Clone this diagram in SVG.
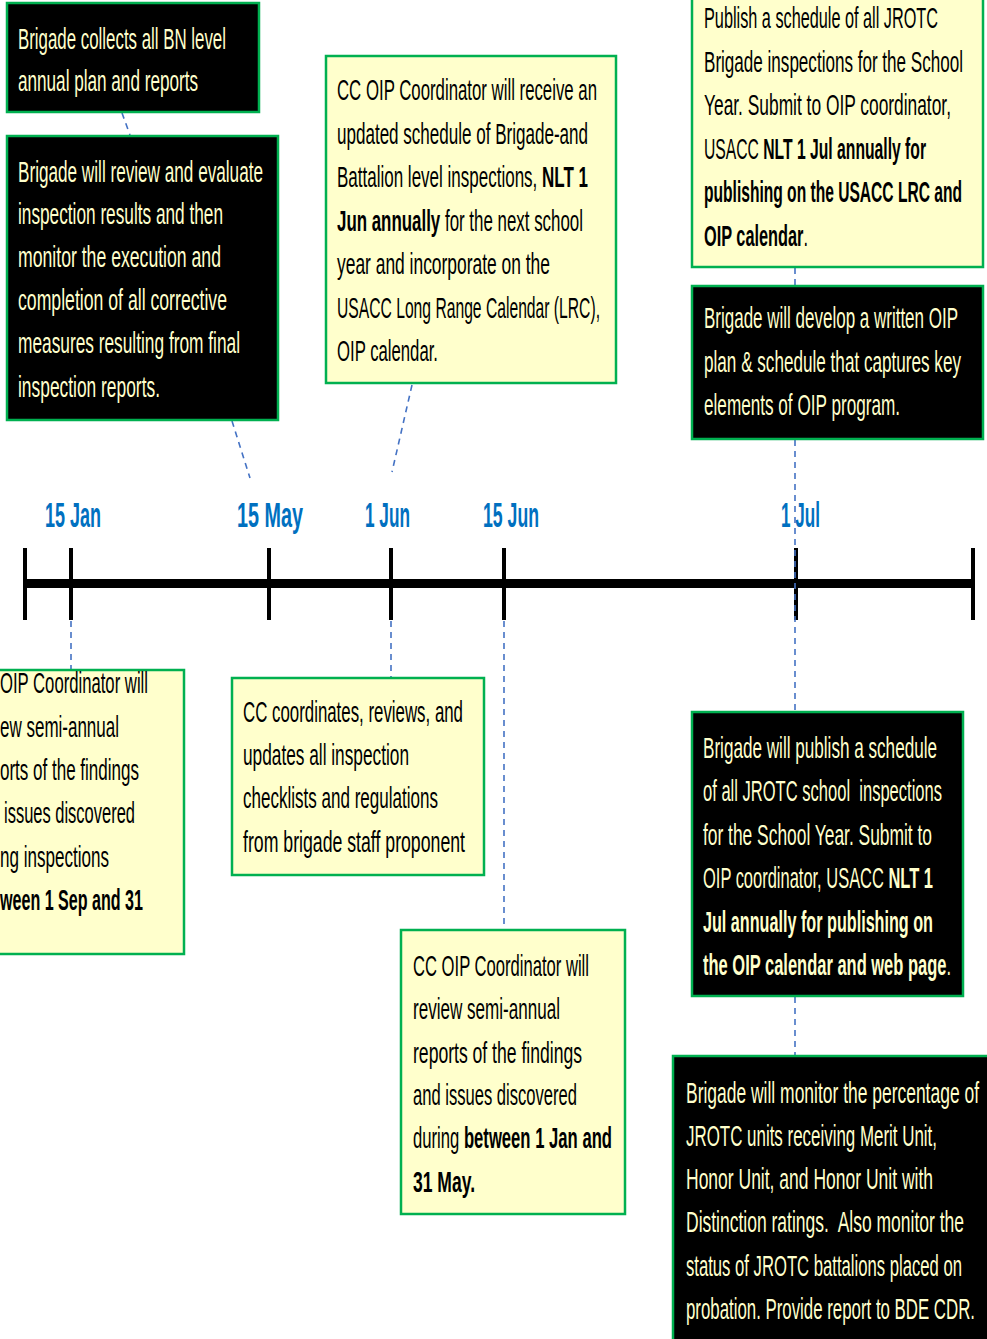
<svg xmlns="http://www.w3.org/2000/svg" width="987" height="1339" viewBox="0 0 987 1339">
<style>
.y{fill:#FFFFCC;stroke:#00B050;stroke-width:2.5}
.k{fill:#000000;stroke:#00B050;stroke-width:2.5}
text{font-family:"Liberation Sans Narrow","Liberation Sans",Arial,sans-serif;font-size:15.5px}
.td{fill:#000000}
.tl{fill:#FFFFCC}
.b{font-weight:bold}
.lab{fill:#0070C0;font-weight:bold;font-size:17px}
.c{fill:none;stroke:#4472C4;stroke-width:1.6;stroke-dasharray:6 5}
</style>
<g id="timeline">
<rect x="24" y="579" width="950" height="9" fill="#000"/>
<g fill="#000">
<rect x="23" y="548" width="4" height="72"/>
<rect x="69" y="548" width="4" height="72"/>
<rect x="267" y="548" width="4" height="72"/>
<rect x="389" y="548" width="4" height="72"/>
<rect x="502" y="548" width="4" height="72"/>
<rect x="794" y="548" width="4" height="72"/>
<rect x="971" y="548" width="4" height="72"/>
</g>
<text class="lab" transform="translate(45,527) scale(1,2.05)" textLength="56" lengthAdjust="spacingAndGlyphs">15 Jan</text>
<text class="lab" transform="translate(237,527) scale(1,2.05)" textLength="66" lengthAdjust="spacingAndGlyphs">15 May</text>
<text class="lab" transform="translate(365,527) scale(1,2.05)" textLength="45" lengthAdjust="spacingAndGlyphs">1 Jun</text>
<text class="lab" transform="translate(483,527) scale(1,2.05)" textLength="56" lengthAdjust="spacingAndGlyphs">15 Jun</text>
<text class="lab" transform="translate(781,527) scale(1,2.05)" textLength="39" lengthAdjust="spacingAndGlyphs">1 Jul</text>
</g>
<g id="connectors">
<path class="c" d="M122 113 L130 135"/>
<path class="c" d="M232 421 L250 478"/>
<path class="c" d="M412 385 L392 472"/>
<path class="c" d="M795 268 V286"/>
<path class="c" d="M795 440 V711"/>
<path class="c" d="M795 997 V1055"/>
<path class="c" d="M71 621 V669"/>
<path class="c" d="M391 621 V677"/>
<path class="c" d="M504 621 V929"/>
</g>
<g id="n1">
<rect class="k" x="7" y="3" width="252" height="109"/>
<text class="tl" transform="translate(18,49) scale(1,1.94)" textLength="208" lengthAdjust="spacingAndGlyphs">Brigade collects all BN level</text>
<text class="tl" transform="translate(18,91) scale(1,1.94)" textLength="180" lengthAdjust="spacingAndGlyphs">annual plan and reports</text>
</g>
<g id="n2">
<rect class="k" x="7" y="136" width="271" height="284"/>
<text class="tl" transform="translate(18,182) scale(1,1.94)" textLength="245" lengthAdjust="spacingAndGlyphs">Brigade will review and evaluate</text>
<text class="tl" transform="translate(18,224) scale(1,1.94)" textLength="205" lengthAdjust="spacingAndGlyphs">inspection results and then</text>
<text class="tl" transform="translate(18,267) scale(1,1.94)" textLength="203" lengthAdjust="spacingAndGlyphs">monitor the execution and</text>
<text class="tl" transform="translate(18,310) scale(1,1.94)" textLength="209" lengthAdjust="spacingAndGlyphs">completion of all corrective</text>
<text class="tl" transform="translate(18,353) scale(1,1.94)" textLength="222" lengthAdjust="spacingAndGlyphs">measures resulting from final</text>
<text class="tl" transform="translate(18,397) scale(1,1.94)" textLength="142" lengthAdjust="spacingAndGlyphs">inspection reports.</text>
</g>
<g id="n3">
<rect class="y" x="326" y="56" width="290" height="327"/>
<text class="td" transform="translate(337,100) scale(1,1.94)" textLength="260" lengthAdjust="spacingAndGlyphs">CC OIP Coordinator will receive an</text>
<text class="td" transform="translate(337,144) scale(1,1.94)" textLength="251" lengthAdjust="spacingAndGlyphs">updated schedule of Brigade-and</text>
<text class="td" transform="translate(337,187) scale(1,1.94)" textLength="251" lengthAdjust="spacingAndGlyphs">Battalion level inspections, <tspan class="b">NLT 1</tspan></text>
<text class="td" transform="translate(337,231) scale(1,1.94)" textLength="246" lengthAdjust="spacingAndGlyphs"><tspan class="b">Jun annually</tspan> for the next school</text>
<text class="td" transform="translate(337,274) scale(1,1.94)" textLength="213" lengthAdjust="spacingAndGlyphs">year and incorporate on the</text>
<text class="td" transform="translate(337,318) scale(1,1.94)" textLength="263" lengthAdjust="spacingAndGlyphs">USACC Long Range Calendar (LRC),</text>
<text class="td" transform="translate(337,361) scale(1,1.94)" textLength="101" lengthAdjust="spacingAndGlyphs">OIP calendar.</text>
</g>
<g id="n4">
<rect class="y" x="692" y="-5" width="291" height="272"/>
<text class="td" transform="translate(704,28) scale(1,1.94)" textLength="234" lengthAdjust="spacingAndGlyphs">Publish a schedule of all JROTC</text>
<text class="td" transform="translate(704,72) scale(1,1.94)" textLength="259" lengthAdjust="spacingAndGlyphs">Brigade inspections for the School</text>
<text class="td" transform="translate(704,115) scale(1,1.94)" textLength="247" lengthAdjust="spacingAndGlyphs">Year. Submit to OIP coordinator,</text>
<text class="td" transform="translate(704,159) scale(1,1.94)" textLength="222" lengthAdjust="spacingAndGlyphs">USACC <tspan class="b">NLT 1 Jul annually for</tspan></text>
<text class="td b" transform="translate(704,202) scale(1,1.94)" textLength="258" lengthAdjust="spacingAndGlyphs">publishing on the USACC LRC and</text>
<text class="td" transform="translate(704,246) scale(1,1.94)" textLength="104" lengthAdjust="spacingAndGlyphs"><tspan class="b">OIP calendar</tspan>.</text>
</g>
<g id="n5">
<rect class="k" x="692" y="286" width="291" height="153"/>
<text class="tl" transform="translate(704,328) scale(1,1.94)" textLength="254" lengthAdjust="spacingAndGlyphs">Brigade will develop a written OIP</text>
<text class="tl" transform="translate(704,372) scale(1,1.94)" textLength="257" lengthAdjust="spacingAndGlyphs">plan &amp; schedule that captures key</text>
<text class="tl" transform="translate(704,415) scale(1,1.94)" textLength="196" lengthAdjust="spacingAndGlyphs">elements of OIP program.</text>
</g>
<g id="n7">
<rect class="y" x="-5" y="670" width="189" height="284"/>
<text class="td" transform="translate(0,693) scale(1,1.94)" textLength="148" lengthAdjust="spacingAndGlyphs">OIP Coordinator will</text>
<text class="td" transform="translate(0,737) scale(1,1.94)" textLength="119" lengthAdjust="spacingAndGlyphs">ew semi-annual</text>
<text class="td" transform="translate(0,780) scale(1,1.94)" textLength="139" lengthAdjust="spacingAndGlyphs">orts of the findings</text>
<text class="td" transform="translate(4,823) scale(1,1.94)" textLength="131" lengthAdjust="spacingAndGlyphs">issues discovered</text>
<text class="td" transform="translate(0,867) scale(1,1.94)" textLength="109" lengthAdjust="spacingAndGlyphs">ng inspections</text>
<text class="td b" transform="translate(0,910) scale(1,1.94)" textLength="143" lengthAdjust="spacingAndGlyphs">ween 1 Sep and 31</text>
</g>
<g id="n8">
<rect class="y" x="232" y="678" width="252" height="197"/>
<text class="td" transform="translate(243,722) scale(1,1.94)" textLength="220" lengthAdjust="spacingAndGlyphs">CC coordinates, reviews, and</text>
<text class="td" transform="translate(243,765) scale(1,1.94)" textLength="166" lengthAdjust="spacingAndGlyphs">updates all inspection</text>
<text class="td" transform="translate(243,808) scale(1,1.94)" textLength="195" lengthAdjust="spacingAndGlyphs">checklists and regulations</text>
<text class="td" transform="translate(243,852) scale(1,1.94)" textLength="222" lengthAdjust="spacingAndGlyphs">from brigade staff proponent</text>
</g>
<g id="n9">
<rect class="y" x="401" y="930" width="224" height="284"/>
<text class="td" transform="translate(413,976) scale(1,1.94)" textLength="176" lengthAdjust="spacingAndGlyphs">CC OIP Coordinator will</text>
<text class="td" transform="translate(413,1019) scale(1,1.94)" textLength="147" lengthAdjust="spacingAndGlyphs">review semi-annual</text>
<text class="td" transform="translate(413,1063) scale(1,1.94)" textLength="169" lengthAdjust="spacingAndGlyphs">reports of the findings</text>
<text class="td" transform="translate(413,1105) scale(1,1.94)" textLength="164" lengthAdjust="spacingAndGlyphs">and issues discovered</text>
<text class="td" transform="translate(413,1148) scale(1,1.94)" textLength="199" lengthAdjust="spacingAndGlyphs">during <tspan class="b">between 1 Jan and</tspan></text>
<text class="td b" transform="translate(413,1192) scale(1,1.94)" textLength="62" lengthAdjust="spacingAndGlyphs">31 May.</text>
</g>
<g id="n10">
<rect class="k" x="692" y="712" width="271" height="284"/>
<text class="tl" transform="translate(703,758) scale(1,1.94)" textLength="234" lengthAdjust="spacingAndGlyphs">Brigade will publish a schedule</text>
<text class="tl" transform="translate(703,801) scale(1,1.94)" textLength="239" lengthAdjust="spacingAndGlyphs">of all JROTC school&#160; inspections</text>
<text class="tl" transform="translate(703,845) scale(1,1.94)" textLength="229" lengthAdjust="spacingAndGlyphs">for the School Year. Submit to</text>
<text class="tl" transform="translate(703,888) scale(1,1.94)" textLength="230" lengthAdjust="spacingAndGlyphs">OIP coordinator, USACC <tspan class="b">NLT 1</tspan></text>
<text class="tl b" transform="translate(703,932) scale(1,1.94)" textLength="230" lengthAdjust="spacingAndGlyphs">Jul annually for publishing on</text>
<text class="tl" transform="translate(703,975) scale(1,1.94)" textLength="248" lengthAdjust="spacingAndGlyphs"><tspan class="b">the OIP calendar and web page</tspan>.</text>
</g>
<g id="n11">
<rect class="k" x="673" y="1056" width="320" height="290"/>
<text class="tl" transform="translate(686,1103) scale(1,1.94)" textLength="293" lengthAdjust="spacingAndGlyphs">Brigade will monitor the percentage of</text>
<text class="tl" transform="translate(686,1146) scale(1,1.94)" textLength="251" lengthAdjust="spacingAndGlyphs">JROTC units receiving Merit Unit,</text>
<text class="tl" transform="translate(686,1189) scale(1,1.94)" textLength="247" lengthAdjust="spacingAndGlyphs">Honor Unit, and Honor Unit with</text>
<text class="tl" transform="translate(686,1232) scale(1,1.94)" textLength="278" lengthAdjust="spacingAndGlyphs">Distinction ratings.&#160; Also monitor the</text>
<text class="tl" transform="translate(686,1276) scale(1,1.94)" textLength="276" lengthAdjust="spacingAndGlyphs">status of JROTC battalions placed on</text>
<text class="tl" transform="translate(686,1319) scale(1,1.94)" textLength="289" lengthAdjust="spacingAndGlyphs">probation. Provide report to BDE CDR.</text>
</g>
</svg>
